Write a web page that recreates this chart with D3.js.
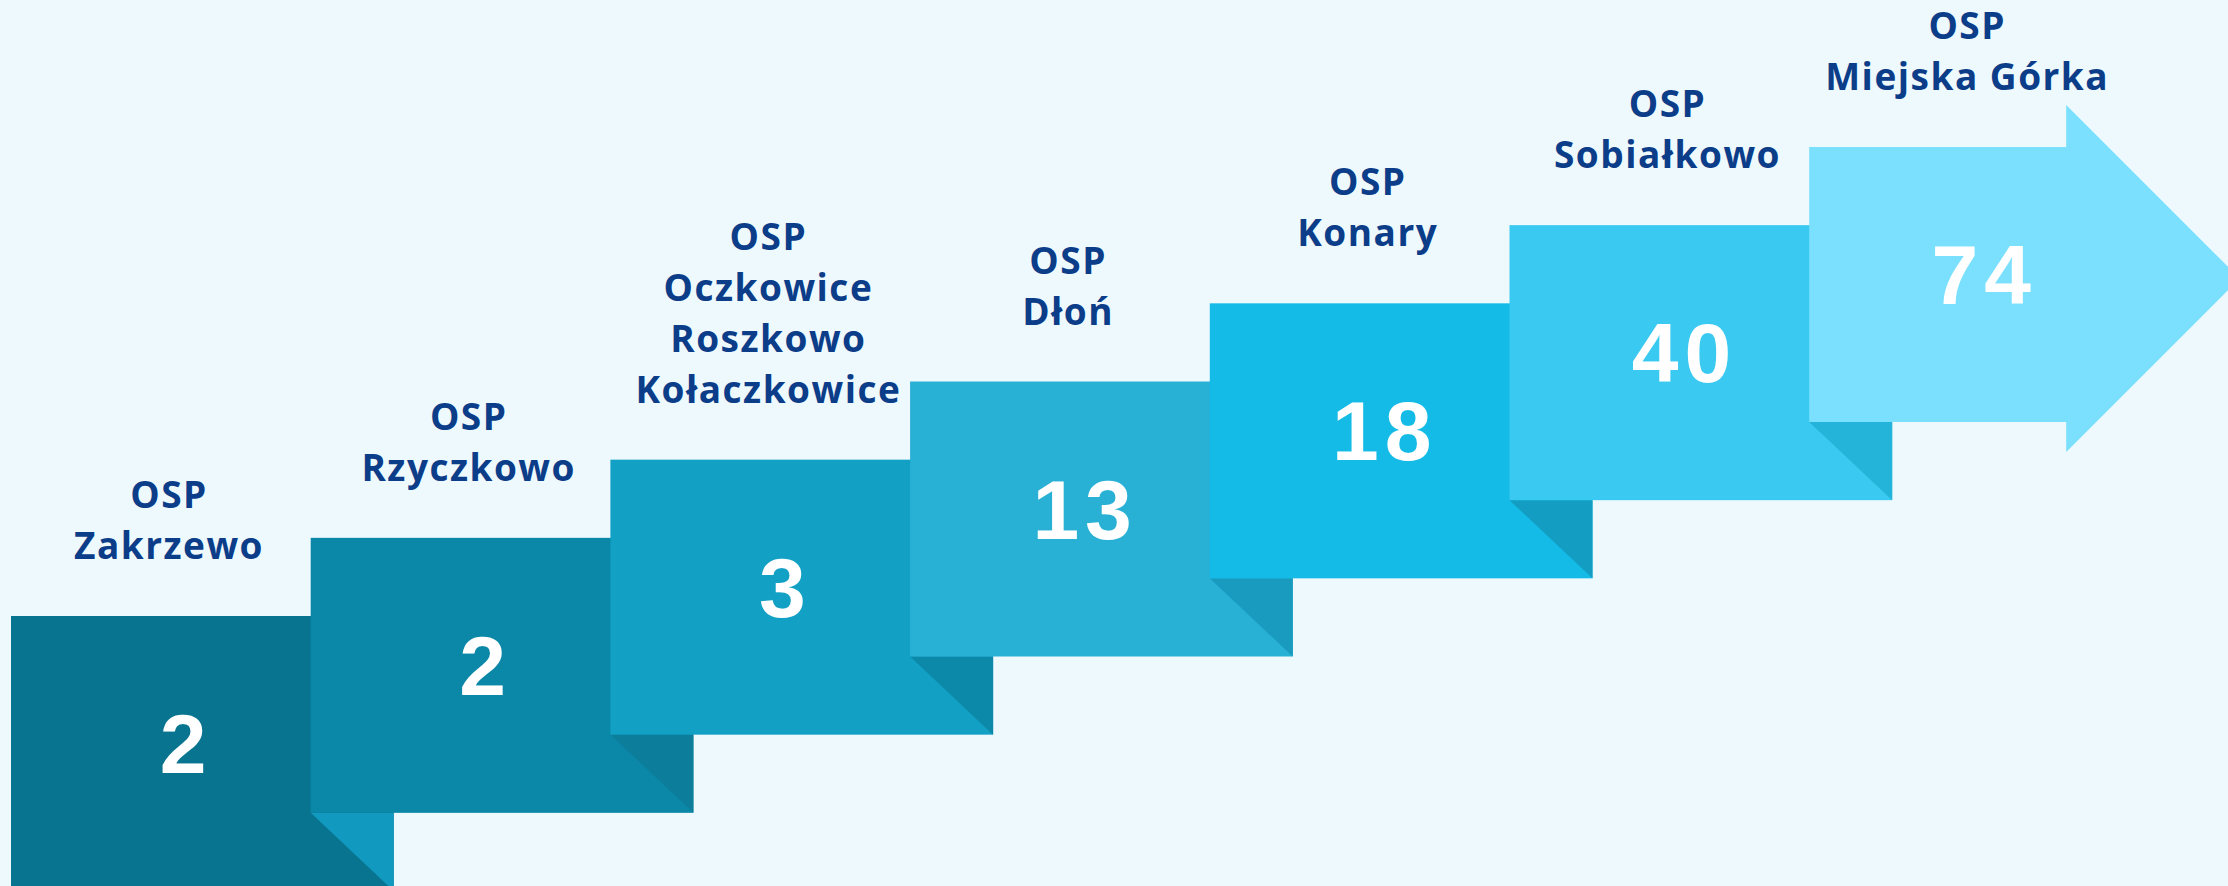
<!DOCTYPE html>
<meta charset="utf-8">
<style>

body {
  margin: 0;
  background: #eef9fe;
}

svg {
  display: block;
}

.label text {
  font-family: "Open Sans", sans-serif;
  font-weight: 700;
  font-size: 37px;
  letter-spacing: 1.5px;
  fill: #0b3d89;
  text-anchor: middle;
}

.value {
  font-family: "Liberation Sans", Arial, sans-serif;
  font-weight: bold;
  font-size: 84px;
  letter-spacing: 6px;
  fill: #fff;
  text-anchor: middle;
}

</style>
<body>
<script src="https://d3js.org/d3.v7.min.js"></script>
<script>

// station names, one entry per line of the label
var labels = [
  ["OSP", "Zakrzewo"],
  ["OSP", "Rzyczkowo"],
  ["OSP", "Oczkowice", "Roszkowo", "Kołaczkowice"],
  ["OSP", "Dłoń"],
  ["OSP", "Konary"],
  ["OSP", "Sobiałkowo"],
  ["OSP", "Miejska Górka"]
];
var values = [2, 2, 3, 13, 18, 40, 74];

var blockColors = ["#087490", "#0b88a8", "#12a0c4", "#28b0d5", "#13bbe6", "#3ac9f0", "#7be0fe"];
var foldColors = ["#1199c0", "#0c7d9b", "#0c88a8", "#189bbf", "#139dc2", "#24b3d9"];

var width = 2228,
    height = 886;

var n = values.length,
    blockH = 275,
    fold = 83,
    arrowBody = 257,
    headTop = 42,
    headBottom = 30;

var x = d3.scaleBand()
    .domain(d3.range(n))
    .range([11, 11 + n * 299.7]);

// top edge of each step
var y = d3.scaleLinear()
    .domain([0, n - 1])
    .range([616, 147]);

var step = x.step();

var svg = d3.select("body").append("svg")
    .attr("width", width)
    .attr("height", height);

var line = d3.line();

var steps = svg.selectAll(".step")
    .data(values)
  .enter().append("g")
    .attr("class", "step");

steps.each(function(d, i) {
  var g = d3.select(this),
      x0 = x(i),
      top = y(i),
      bottom = top + blockH;

  if (i < n - 1) {
    g.append("rect")
        .attr("x", x0)
        .attr("y", top)
        .attr("width", step + fold)
        .attr("height", blockH)
        .attr("fill", blockColors[i]);

    var x1 = x(i + 1),
        nextBottom = y(i + 1) + blockH,
        right = x1 + fold;
    g.append("path")
        .attr("d", line([[x1, nextBottom], [right, nextBottom], [right, bottom]]) + "Z")
        .attr("fill", foldColors[i]);
  } else {
    var bx = x0 + arrowBody,
        ht = top - headTop,
        hb = bottom + headBottom,
        mid = (ht + hb) / 2;
    g.append("path")
        .attr("d", line([
          [x0, top], [bx, top], [bx, ht], [bx + (mid - ht), mid],
          [bx, hb], [bx, bottom], [x0, bottom]
        ]) + "Z")
        .attr("fill", blockColors[i]);
  }

  g.append("text")
      .attr("class", "value")
      .attr("x", x0 + 175)
      .attr("y", top + 157)
      .text(d);
});

// labels above each step, last line sits just above the block
var lab = svg.selectAll(".label")
    .data(labels)
  .enter().append("g")
    .attr("class", "label");

lab.each(function(lines, i) {
  var g = d3.select(this);
  var base = y(i) - 57;
  lines.forEach(function(t, k) {
    g.append("text")
        .attr("x", x(i) + 158)
        .attr("y", base - (lines.length - 1 - k) * 51)
        .text(t);
  });
});

</script>
